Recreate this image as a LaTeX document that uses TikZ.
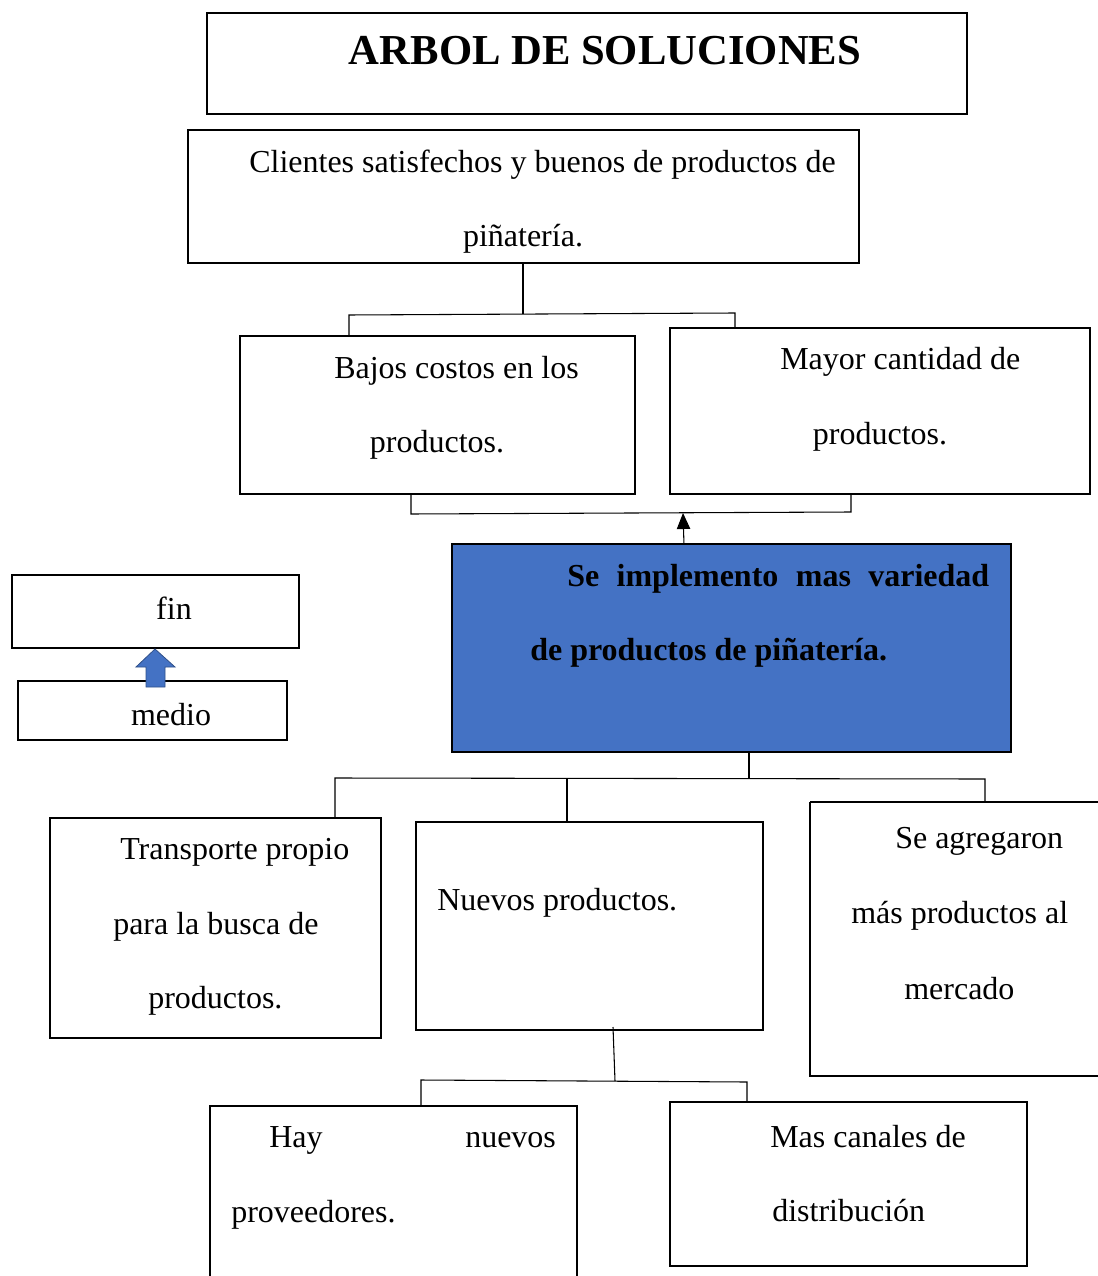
\documentclass[tikz,border=0pt]{standalone}
\usepackage{fontspec}
\setmainfont{Liberation Serif}
\usetikzlibrary{arrows.meta}
\definecolor{boxblue}{HTML}{4472C4}
\definecolor{arrowblue}{HTML}{4472C4}
\tikzset{
  box/.style={draw=black, line width=1.9pt},
  thinbox/.style={draw=black, line width=0.8pt},
  conn/.style={draw=black, line width=0.8pt},
  txt/.style={inner sep=0pt, anchor=west, yshift=-2.5pt, font=\fontsize{24}{28}\selectfont},
  ctxt/.style={inner sep=0pt, anchor=center, yshift=-2.5pt, font=\fontsize{24}{28}\selectfont},
  btxt/.style={inner sep=0pt, anchor=west, yshift=-2.5pt, font=\fontsize{24}{28}\selectfont\bfseries},
}
\begin{document}
\begin{tikzpicture}[x=0.75pt,y=-0.75pt]
\useasboundingbox (0,0) rectangle (1097,1276);
% title
\draw[thinbox] (207,13) rectangle (967,114);
\node[inner sep=0pt, yshift=-1.5pt, font=\fontsize{32}{36}\selectfont\bfseries] (title) at (605,49) {ARBOL DE SOLUCIONES};
% box 1
\draw[box] (188,130) rectangle (859,263);
\coordinate (b1s) at (523,263);
\node[txt] (t1a) at (249,161) {Clientes satisfechos y buenos de productos de};
\node[ctxt] (t1b) at (523,235) {piñatería.};
% box 2 and 3
\draw[box] (240,336) rectangle (635,494);
\node[txt] (t2a) at (334,367) {Bajos costos en los};
\node[ctxt] (t2b) at (437,441) {productos.};
\draw[box] (670,328) rectangle (1090,494);
\node[txt] (t3a) at (780,359) {Mayor cantidad de};
\node[ctxt] (t3b) at (880,433) {productos.};
% connectors top
\coordinate (j1) at (523,314);
\coordinate (j1l) at (349,315);
\coordinate (j1r) at (735,313);
\draw[conn] (b1s) -- (j1);
\draw[conn] (349,336) -- (j1l) -- (j1r) -- (735,328);
% connectors middle
\coordinate (j2l) at (411,514);
\coordinate (j2r) at (851,512);
\draw[conn] (411,494) -- (j2l) -- (j2r) -- (851,494);
\draw[conn, -{Triangle[length=12pt,width=10pt]}] (684,545) -- (683,513);
% blue box
\fill[boxblue] (452,544) rectangle (1011,752);
\draw[box] (452,544) rectangle (1011,752);
\node[btxt] (tba) at (567,575) {\makebox[316.5pt][s]{Se implemento mas variedad}};
\node[btxt] (tbb) at (530,649) {de productos de piñatería.};
% fin / medio
\draw[box] (12,575) rectangle (299,648);
\node[ctxt] (fin) at (174,605) {fin};
\draw[box] (18,681) rectangle (287,740);
\node[ctxt] (medio) at (171,711) {medio};
\filldraw[fill=arrowblue, draw=arrowblue!70!black, line width=0.6pt]
  (146,687) -- (146,667) -- (136,667) -- (155,649) -- (175,667) -- (165,667) -- (165,687) -- cycle;
% lower connectors
\coordinate (j3) at (749,778);
\draw[conn] (749,752) -- (j3);
\draw[conn] (335,818) -- (335,778) -- (985,779) -- (985,802);
\draw[conn] (567,778) -- (567,822);
% lower boxes
\draw[box] (50,818) rectangle (381,1038);
\node[txt] (t4a) at (120,849) {Transporte propio};
\node[txt] (t4b) at (113,923) {para la busca de};
\node[txt] (t4c) at (148,997) {productos.};
\draw[box] (416,822) rectangle (763,1030);
\node[txt] (t5a) at (437,899) {Nuevos productos.};
\draw[box] (810,802) -- (1100,802) (810,802) -- (810,1076) -- (1100,1076);
\node[txt] (t6a) at (895,838) {Se agregaron};
\node[txt] (t6b) at (851,912) {más productos al};
\node[txt] (t6c) at (904,985) {mercado};
% bottom connectors
\draw[conn] (613,1027) -- (615,1081);
\draw[conn] (421,1106) -- (421,1080) -- (747,1082) -- (747,1102);
% bottom boxes
\draw[box] (210,1290) -- (210,1106) -- (577,1106) -- (577,1290);
\node[txt] (t7a) at (269,1137) {Hay};
\node[txt] (t7b) at (465,1137) {nuevos};
\node[txt] (t7c) at (231,1211) {proveedores.};
\draw[box] (670,1102) rectangle (1027,1266);
\node[txt] (t8a) at (770,1133) {Mas canales de};
\node[txt] (t8b) at (772,1207) {distribución};
\end{tikzpicture}
\end{document}
